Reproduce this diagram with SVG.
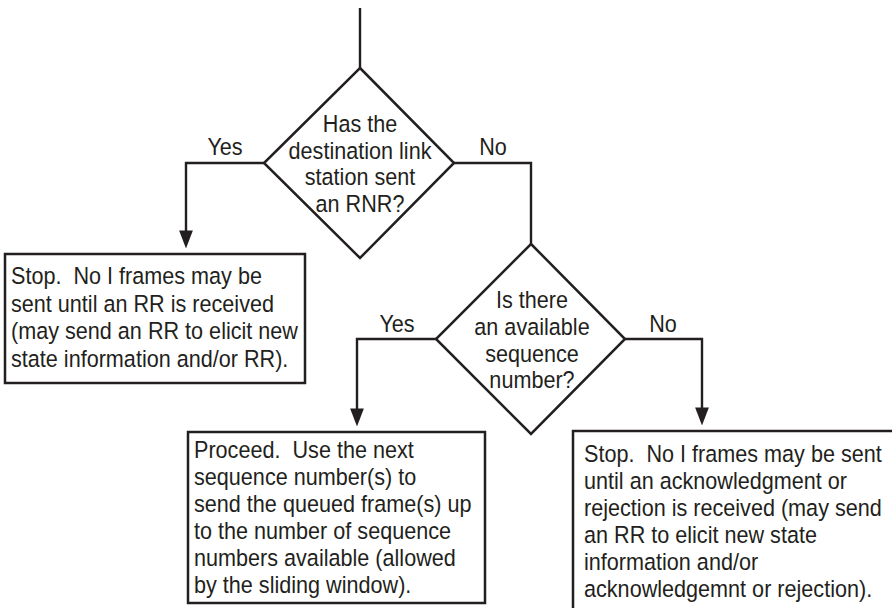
<svg xmlns="http://www.w3.org/2000/svg" width="892" height="608" viewBox="0 0 892 608">
  <style>
    .shape { fill: #ffffff; stroke: #231f20; stroke-width: 2.5; }
    .wire { fill: none; stroke: #231f20; stroke-width: 2.4; }
    text { font-family: "Liberation Sans", Arial, sans-serif; font-size: 23.5px; fill: #231f20; }
    .c { text-anchor: middle; }
  </style>
  <defs>
    <marker id="arrow" markerUnits="userSpaceOnUse" markerWidth="18" markerHeight="14" viewBox="0 0 17 13" refX="9" refY="6.5" orient="auto">
      <path d="M0,0 L17,6.5 L0,13 z" fill="#231f20"/>
    </marker>
  </defs>
  <rect width="892" height="608" fill="#ffffff"/>

  <!-- flow lines -->
  <g id="connectors">
    <path class="wire" d="M360,8 L360,68"/>
    <path class="wire" d="M264,163 L186,163 L186,240" marker-end="url(#arrow)"/>
    <path class="wire" d="M454,163 L531,163 L531,244"/>
    <path class="wire" d="M436,339 L357,339 L357,418" marker-end="url(#arrow)"/>
    <path class="wire" d="M625,339 L702,339 L702,417" marker-end="url(#arrow)"/>
  </g>

  <!-- branch labels; text is narrowed horizontally to a condensed face -->
  <g id="labels">
    <text class="c" transform="translate(225,155) scale(0.92,1)">Yes</text>
    <text class="c" transform="translate(493,155) scale(0.92,1)">No</text>
    <text class="c" transform="translate(397,332) scale(0.92,1)">Yes</text>
    <text class="c" transform="translate(663,332) scale(0.92,1)">No</text>
  </g>

  <g id="rnr-check">
    <path class="shape" d="M360,68 L454,163 L360,258 L264,163 z"/>
    <text class="c" transform="translate(360,132) scale(0.92,1)">Has the</text>
    <text class="c" transform="translate(360,158.5) scale(0.92,1)">destination link</text>
    <text class="c" transform="translate(360,185) scale(0.92,1)">station sent</text>
    <text class="c" transform="translate(360,211.5) scale(0.92,1)">an RNR?</text>
  </g>

  <g id="sequence-check">
    <path class="shape" d="M531,244 L625,339 L531,434 L436,339 z"/>
    <text class="c" transform="translate(532,308) scale(0.92,1)">Is there</text>
    <text class="c" transform="translate(532,335) scale(0.92,1)">an available</text>
    <text class="c" transform="translate(532,362) scale(0.92,1)">sequence</text>
    <text class="c" transform="translate(532,388) scale(0.92,1)">number?</text>
  </g>

  <g id="stop-rnr">
    <rect class="shape" x="5" y="254" width="300" height="129"/>
    <text transform="translate(11,284) scale(0.92,1)" xml:space="preserve">Stop.  No I frames may be</text>
    <text transform="translate(11,311.5) scale(0.92,1)">sent until an RR is received</text>
    <text transform="translate(11,339) scale(0.92,1)">(may send an RR to elicit new</text>
    <text transform="translate(11,366.5) scale(0.92,1)">state information and/or RR).</text>
  </g>

  <g id="proceed">
    <rect class="shape" x="188" y="432" width="297" height="171"/>
    <text transform="translate(194,458) scale(0.92,1)" xml:space="preserve">Proceed.  Use the next</text>
    <text transform="translate(194,485) scale(0.92,1)">sequence number(s) to</text>
    <text transform="translate(194,512) scale(0.92,1)">send the queued frame(s) up</text>
    <text transform="translate(194,539) scale(0.92,1)">to the number of sequence</text>
    <text transform="translate(194,566) scale(0.92,1)">numbers available (allowed</text>
    <text transform="translate(194,593) scale(0.92,1)">by the sliding window).</text>
  </g>

  <g id="stop-window">
    <rect class="shape" x="573" y="431" width="340" height="200"/>
    <text transform="translate(584,462) scale(0.92,1)" xml:space="preserve">Stop.  No I frames may be sent</text>
    <text transform="translate(584,489) scale(0.92,1)">until an acknowledgment or</text>
    <text transform="translate(584,516) scale(0.92,1)">rejection is received (may send</text>
    <text transform="translate(584,543) scale(0.92,1)">an RR to elicit new state</text>
    <text transform="translate(584,570) scale(0.92,1)">information and/or</text>
    <text transform="translate(584,597) scale(0.92,1)">acknowledgemnt or rejection).</text>
  </g>
</svg>
